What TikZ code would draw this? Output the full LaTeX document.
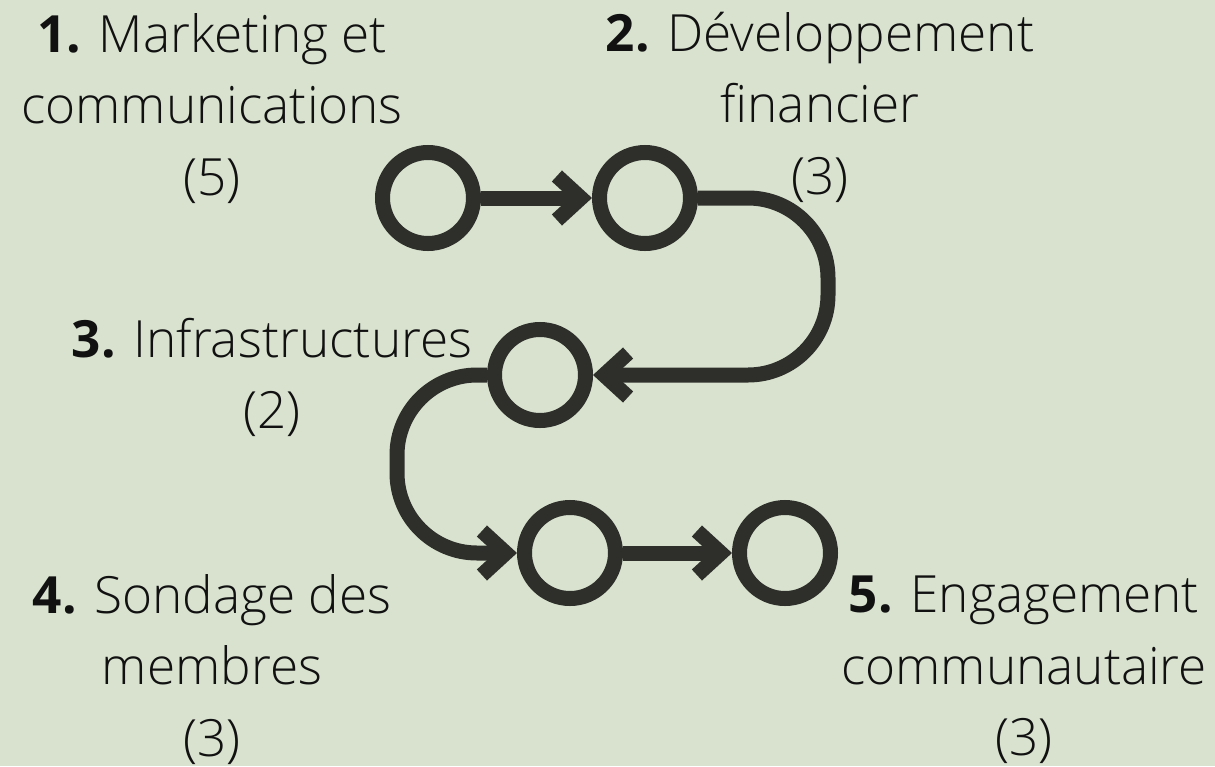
\documentclass[tikz,border=0pt]{standalone}
\usepackage{fontspec}
\setmainfont{Open Sans}[UprightFont=* Light, BoldFont=* Bold]
\usetikzlibrary{arrows.meta}
\definecolor{sage}{HTML}{D8E2CF}
\definecolor{ink}{HTML}{2E2F2A}
\definecolor{txt}{HTML}{111111}
\tikzstyle{ring}=[circle, draw=ink, line width=15pt, minimum size=91pt, inner sep=0pt]
\tikzstyle{link}=[draw=ink, line width=15pt, rounded corners=80pt, -{Straight Barb[sharp, length=24pt, width=44pt]}]
\tikzstyle{lbl}=[align=center, anchor=north, inner sep=0pt, text=txt, font=\fontsize{51.3}{71.5}\selectfont]

\begin{document}
\begin{tikzpicture}[x=1pt, y=-1pt]
            \fill[sage] (0,0) rectangle (1215,766);
            \useasboundingbox (0,0) rectangle (1215,766);
            \node [ring] (C1) at (428,198) {};
            \node [ring] (C2) at (645,198) {};
            \node [ring] (C3) at (540,375) {};
            \node [ring] (C4) at (570,553) {};
            \node [ring] (C5) at (785,553) {};
            \coordinate (bendR) at (828,286);
            \coordinate (bendL) at (397,464);
            \node [lbl] (L1) at (212,13) {\textbf{1.} Marketing et\\communications\\(5)};
            \node [lbl] (L2) at (820,11.5) {\textbf{2.} Développement\\financier\\(3)};
            \node [lbl] (L3) at (272,318) {\textbf{3.} Infrastructures\\(2)};
            \node [lbl] (L4) at (212,574) {\textbf{4.} Sondage des\\membres\\(3)};
            \node [lbl] (L5) at (1024,576) {\textbf{5.} Engagement\\communautaire\\(3)};
            \draw[link] (C1) -- (C2);
            \draw[link] (C2.east) -- (C2.east -| bendR) -- (C3.east -| bendR) -- (C3.east);
            \draw[link] (C3.west) -- (C3.west -| bendL) -- (C4.west -| bendL) -- (C4.west);
            \draw[link] (C4) -- (C5);
        \end{tikzpicture}
\end{document}
